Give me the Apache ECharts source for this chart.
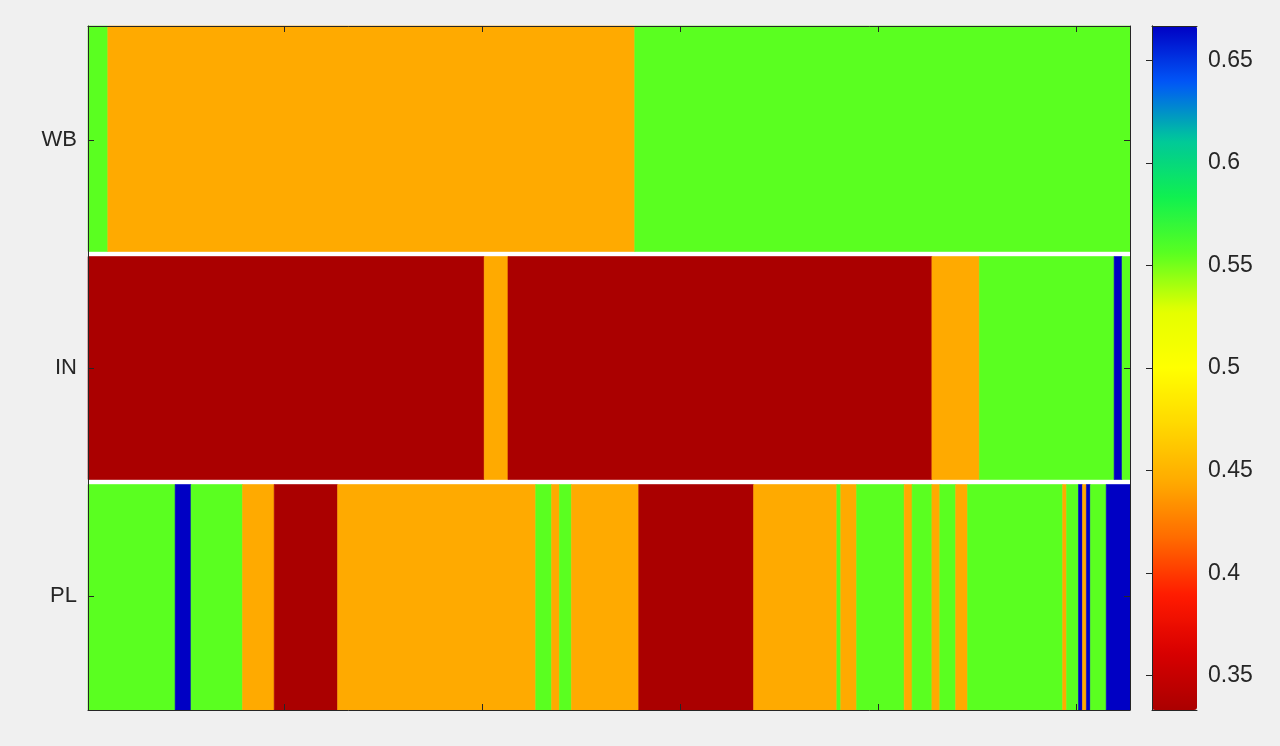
<!DOCTYPE html>
<html>
<head>
<meta charset="utf-8">
<script src="https://cdn.jsdelivr.net/npm/echarts@6/dist/echarts.min.js"></script>
<style>
html, body { margin: 0; padding: 0; background: #f0f0f0; }
#chart-1 { width: 1280px; height: 746px; }
</style>
</head>
<body>
<div id="chart-1"></div>
<script>
// rows top to bottom, run lengths (columns) and the value of each run
var rows = ['WB', 'IN', 'PL'];
var nCols = 263;
var wbLengths = [5, 133, 125];
var wbValues = [0.5556, 0.4444, 0.5556];
var inLengths = [100, 6, 107, 12, 34, 2, 2];
var inValues = [0.3333, 0.4444, 0.3333, 0.4444, 0.5556, 0.6667, 0.5556];
var plLengths = [22, 4, 13, 8, 16, 50, 4, 2, 3, 17, 29, 21, 1, 4, 12, 2, 5, 2, 4, 3, 24, 1, 3, 1, 1, 1, 4, 6];
var plValues = [0.5556, 0.6667, 0.5556, 0.4444, 0.3333, 0.4444, 0.5556, 0.4444, 0.5556, 0.4444,
                0.3333, 0.4444, 0.5556, 0.4444, 0.5556, 0.4444, 0.5556, 0.4444, 0.5556, 0.4444,
                0.5556, 0.4444, 0.5556, 0.6667, 0.4444, 0.6667, 0.5556, 0.6667];
var xTicks = [50, 100, 150, 200, 250];
var cbarTicks = [0.35, 0.4, 0.45, 0.5, 0.55, 0.6, 0.65];
var cbarMin = 0.3333, cbarMax = 0.6667;
var cbarColors = ['#aa0000', '#d80000', '#ff1a00', '#ff6a00', '#ffaa00', '#ffd800', '#ffff00',
                  '#e4ff00', '#5aff20', '#10f050', '#00c89a', '#0058f8', '#0000c4'];

var ink = '#262626';
var font = 'Liberation Sans, Arial, Helvetica, sans-serif';

function runs(row, lengths, values) {
    var out = [], start = 1;
    for (var i = 0; i < lengths.length; i++) {
        out.push([start - 0.5, row, start + lengths[i] - 0.5, values[i]]);
        start += lengths[i];
    }
    return out;
}
var segData = runs(0, wbLengths, wbValues).concat(runs(1, inLengths, inValues), runs(2, plLengths, plValues));

function renderSeg(params, api) {
    var row = api.value(1);
    var p0 = api.coord([api.value(0), row]);
    var p1 = api.coord([api.value(2), row]);
    var h = api.size([0, 1])[1];
    var y0 = p0[1] - h / 2, y1 = p0[1] + h / 2;
    if (row > 0) y0 += 2.5;               // white separator between rows
    if (row < rows.length - 1) y1 -= 2.5;
    var c = api.visual('color');
    return {
        type: 'rect',
        shape: { x: p0[0], y: y0, width: p1[0] - p0[0], height: y1 - y0 },
        style: { fill: c, stroke: c, lineWidth: 0.6 }
    };
}

var axisLine = { show: true, lineStyle: { color: ink, width: 1 } };

var myChart1 = echarts.init(document.getElementById('chart-1'));
var option1 = {
    backgroundColor: '#f0f0f0',
    animation: false,
    grid: [
        { left: 88, top: 26, width: 1042, height: 684, show: true, backgroundColor: '#ffffff', borderWidth: 0 },
        { left: 1152, top: 26, width: 45, height: 684, show: false }
    ],
    xAxis: [
        {
            gridIndex: 0, type: 'value', min: 0.5, max: nCols + 0.5, position: 'bottom', z: 10,
            axisLine: axisLine,
            axisTick: { show: true, inside: true, length: 6, customValues: xTicks, lineStyle: { color: ink } },
            axisLabel: { show: false },
            splitLine: { show: false }
        },
        {
            gridIndex: 0, type: 'value', min: 0.5, max: nCols + 0.5, position: 'top', z: 10,
            axisLine: axisLine,
            axisTick: { show: true, inside: true, length: 6, customValues: xTicks, lineStyle: { color: ink } },
            axisLabel: { show: false },
            splitLine: { show: false }
        },
        {
            gridIndex: 1, type: 'value', min: 0, max: 1, position: 'bottom', z: 10,
            axisLine: axisLine, axisTick: { show: false }, axisLabel: { show: false }, splitLine: { show: false }
        },
        {
            gridIndex: 1, type: 'value', min: 0, max: 1, position: 'top', z: 10,
            axisLine: axisLine, axisTick: { show: false }, axisLabel: { show: false }, splitLine: { show: false }
        }
    ],
    yAxis: [
        {
            gridIndex: 0, type: 'category', data: rows, inverse: true, position: 'left', z: 10,
            axisLine: axisLine,
            axisTick: { show: true, inside: true, alignWithLabel: true, length: 6, lineStyle: { color: ink } },
            axisLabel: { fontSize: 22, color: ink, margin: 11, fontFamily: font },
            splitLine: { show: false }
        },
        {
            gridIndex: 0, type: 'category', data: rows, inverse: true, position: 'right', z: 10,
            axisLine: axisLine,
            axisTick: { show: true, inside: true, alignWithLabel: true, length: 6, lineStyle: { color: ink } },
            axisLabel: { show: false },
            splitLine: { show: false }
        },
        {
            gridIndex: 1, type: 'value', min: cbarMin, max: cbarMax, position: 'right', z: 10,
            axisLine: axisLine,
            axisTick: { show: true, inside: true, length: 6, customValues: cbarTicks, lineStyle: { color: ink } },
            axisLabel: {
                customValues: cbarTicks, fontSize: 23, color: ink, margin: 11, fontFamily: font,
                formatter: function (v) { return String(+(+v).toFixed(2)); }
            },
            splitLine: { show: false }
        },
        {
            gridIndex: 1, type: 'value', min: cbarMin, max: cbarMax, position: 'left', z: 10,
            axisLine: axisLine, axisTick: { show: false }, axisLabel: { show: false }, splitLine: { show: false }
        }
    ],
    visualMap: {
        type: 'continuous',
        min: cbarMin,
        max: cbarMax,
        dimension: 3,
        seriesIndex: 0,
        calculable: false,
        hoverLink: false,
        orient: 'vertical',
        left: 1152,
        top: 26,
        padding: 0,
        itemWidth: 45,
        itemHeight: 684,
        inRange: { color: cbarColors }
    },
    series: [
        {
            type: 'custom',
            xAxisIndex: 0,
            yAxisIndex: 0,
            renderItem: renderSeg,
            encode: { x: [0, 2], y: 1 },
            data: segData
        }
    ]
};
myChart1.setOption(option1);
</script>
</body>
</html>
